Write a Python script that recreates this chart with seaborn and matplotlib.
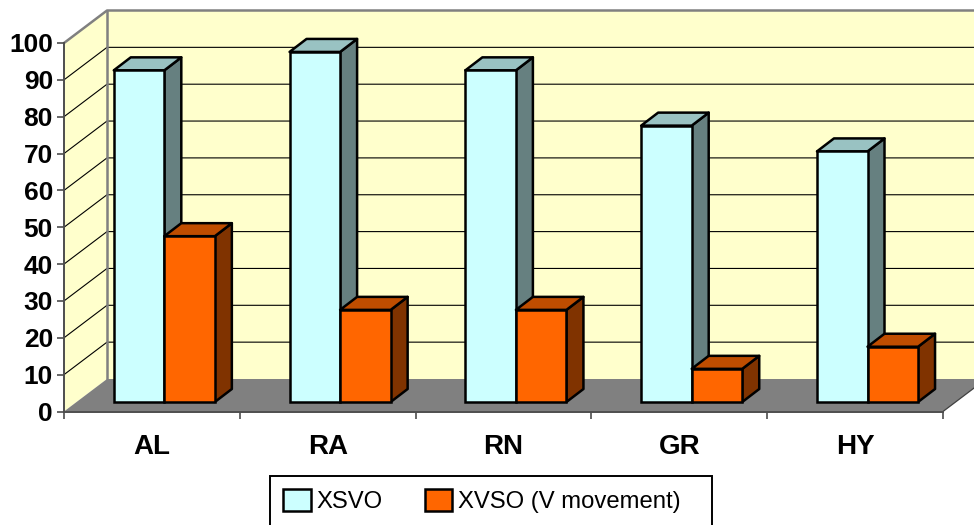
# 3D-look clustered column chart (Excel style), flat seaborn bars + drawn depth faces

import matplotlib
matplotlib.use("Agg")

import matplotlib.pyplot as plt
from matplotlib.lines import Line2D
from matplotlib.patches import Polygon, Rectangle
from matplotlib.transforms import Affine2D, IdentityTransform
import pandas as pd
import seaborn as sns

# =========================================================
# DATA
# =========================================================

categories = ["AL", "RA", "RN", "GR", "HY"]
series_names = ["XSVO", "XVSO (V movement)"]
xsvo_values = [90, 95, 90, 75, 68]
xvso_values = [45, 25, 25, 9, 15]
y_ticks = list(range(0, 101, 10))

# =========================================================
# STYLE
# =========================================================

sns.set_theme(style="white")
plt.rcParams["font.family"] = ["Liberation Sans", "DejaVu Sans"]

front_colors = ["#CCFFFF", "#FF6600"]
top_colors = ["#99C2C2", "#BF4D00"]
side_colors = ["#668080", "#803300"]
wall_color = "#FFFFCC"
floor_color = "#808080"

W, H = 974, 525

# axis box in reference pixels (y down)
left, right, top, bottom = 64, 943, 43, 411.5

# depth of the box and of the bars, in pixels
wall_dx, wall_dy = 43, 32.5
bar_dx, bar_dy = 12.4, 9.5
depth_dx, depth_dy = 17, 13

# =========================================================
# FIGURE
# =========================================================

fig = plt.figure(figsize=(W / 100, H / 100), dpi=100)
ax = fig.add_axes([
    left / W,
    1 - bottom / H,
    (right - left) / W,
    (bottom - top) / H
])

df = pd.DataFrame({
    "category": categories * 2,
    "series": [series_names[0]] * 5 + [series_names[1]] * 5,
    "value": xsvo_values + xvso_values
})

sns.barplot(
    data=df,
    x="category",
    y="value",
    hue="series",
    palette=front_colors,
    saturation=1,
    width=0.575,
    gap=0,
    edgecolor="black",
    linewidth=1.8,
    ax=ax
)

ax.set_xlim(-0.5, len(categories) - 0.5)
ax.set_ylim(0, 100)
ax.patch.set_visible(False)


def to_px(x, y, dx=0, dy=0):
    px, py = ax.transData.transform((x, y))
    return (px + dx, py + dy)


def add_poly(points, color, zorder, edge="none", lw=0):
    ax.add_patch(Polygon(
        points,
        closed=True,
        facecolor=color,
        edgecolor=edge,
        linewidth=lw,
        joinstyle="round",
        transform=IdentityTransform(),
        clip_on=False,
        zorder=zorder
    ))


def add_line(points, color, lw, zorder):
    xs, ys = zip(*points)
    ax.add_line(Line2D(
        xs,
        ys,
        color=color,
        linewidth=lw,
        transform=IdentityTransform(),
        clip_on=False,
        zorder=zorder
    ))


# =========================================================
# WALLS AND FLOOR
# =========================================================

x0, x1 = ax.get_xlim()

add_poly(
    [to_px(x0, 0, wall_dx, wall_dy), to_px(x0, 100, wall_dx, wall_dy),
     to_px(x1, 100, wall_dx, wall_dy), to_px(x1, 0, wall_dx, wall_dy)],
    wall_color, 0.1
)
add_poly(
    [to_px(x0, 0), to_px(x0, 100),
     to_px(x0, 100, wall_dx, wall_dy), to_px(x0, 0, wall_dx, wall_dy)],
    wall_color, 0.1
)

# gridlines run along the side wall and then the back wall
for tick in y_ticks[1:-1]:
    add_line(
        [to_px(x0, tick), to_px(x0, tick, wall_dx, wall_dy),
         to_px(x1, tick, wall_dx, wall_dy)],
        "black", 0.8, 0.2
    )

add_poly(
    [to_px(x0, 0), to_px(x0, 0, wall_dx, wall_dy),
     to_px(x1, 0, wall_dx, wall_dy), to_px(x1, 0)],
    floor_color, 0.3
)

# grey outline of the walls
add_line(
    [to_px(x0, 100), to_px(x0, 100, wall_dx, wall_dy),
     to_px(x1, 100, wall_dx, wall_dy)],
    floor_color, 1.8, 0.4
)
add_line(
    [to_px(x0, 100, wall_dx, wall_dy), to_px(x0, 0, wall_dx, wall_dy)],
    floor_color, 1.8, 0.25
)
add_line(
    [to_px(x1, 0), to_px(x1, 0, wall_dx, wall_dy)],
    "#404040", 0.9, 0.4
)

# =========================================================
# BAR DEPTH FACES
# =========================================================

shift = Affine2D().translate(bar_dx, bar_dy)

for i, container in enumerate(ax.containers):

    base_z = 3 + i

    for bar in container:

        bar.set_transform(ax.transData + shift)
        bar.set_clip_on(False)
        bar.set_zorder(base_z + 0.2)

        bx0 = bar.get_x()
        bx1 = bx0 + bar.get_width()
        by = bar.get_height()

        a = to_px(bx0, by, bar_dx, bar_dy)
        b = to_px(bx1, by, bar_dx, bar_dy)
        c = to_px(bx1, 0, bar_dx, bar_dy)

        add_poly(
            [b, c, (c[0] + depth_dx, c[1] + depth_dy),
             (b[0] + depth_dx, b[1] + depth_dy)],
            side_colors[i], base_z, "black", 1.8
        )
        add_poly(
            [a, b, (b[0] + depth_dx, b[1] + depth_dy),
             (a[0] + depth_dx, a[1] + depth_dy)],
            top_colors[i], base_z + 0.1, "black", 1.8
        )

# =========================================================
# AXES AND TICKS
# =========================================================

sns.despine(ax=ax)

for name in ["left", "bottom"]:
    ax.spines[name].set_color("#4D4D4D")
    ax.spines[name].set_linewidth(1.4)
    ax.spines[name].set_zorder(0.5)

ax.set_xlabel("")
ax.set_ylabel("")

ax.set_yticks(y_ticks)
ax.set_xticks(range(len(categories)))
ax.set_xticklabels(categories)
ax.set_xticks([x0 + k for k in range(len(categories) + 1)], minor=True)

ax.tick_params(
    axis="y",
    which="major",
    left=True,
    length=5,
    width=1.2,
    color="#4D4D4D",
    pad=3,
    labelsize=19,
    labelcolor="black"
)
ax.tick_params(axis="x", which="major", bottom=False, length=0, pad=16,
               labelsize=20, labelcolor="black")
ax.tick_params(axis="x", which="minor", bottom=True, length=5, width=1.2,
               color="#4D4D4D")

for label in ax.get_xticklabels() + ax.get_yticklabels():
    label.set_fontweight("bold")

# =========================================================
# LEGEND
# =========================================================

# frame is separate: the box is wider than its entries and runs off the bottom
ax.add_patch(Rectangle(
    (270, H - 530),
    442,
    54,
    facecolor="white",
    edgecolor="black",
    linewidth=1.4,
    transform=IdentityTransform(),
    clip_on=False,
    zorder=9
))

sns.move_legend(
    ax,
    "upper left",
    bbox_to_anchor=(270 / W, 1 - 476 / H),
    bbox_transform=fig.transFigure,
    ncols=2,
    title=None,
    frameon=False,
    fontsize=17.2,
    labelcolor="black",
    handlelength=1.17,
    handleheight=1.09,
    handletextpad=0.25,
    columnspacing=1.75,
    borderpad=0.53,
    borderaxespad=0
)
ax.get_legend().set_zorder(10)

fig.savefig("out.png", dpi=100)
plt.close(fig)
